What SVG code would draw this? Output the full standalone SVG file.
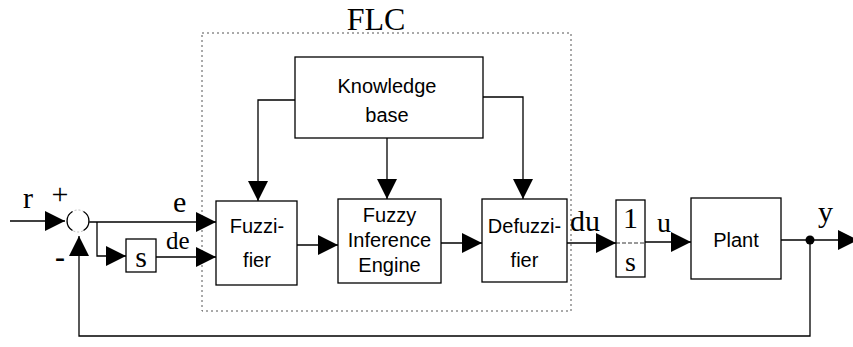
<svg xmlns="http://www.w3.org/2000/svg" width="853" height="347" viewBox="0 0 853 347">
<style>
.box{fill:#fff;stroke:#000;stroke-width:1.3}
.ln{fill:none;stroke:#000;stroke-width:1.3}
.sans{font-family:"Liberation Sans",Arial,sans-serif;font-size:20px;fill:#000;text-anchor:middle}
.serif{font-family:"Liberation Serif","Times New Roman",serif;fill:#000}
</style>
<defs>
<marker id="ah" markerUnits="userSpaceOnUse" markerWidth="20" markerHeight="20" refX="20" refY="10" orient="auto" viewBox="0 0 20 20">
<path d="M0,0 L20,10 L0,20 Z" fill="#000"/>
</marker>
</defs>
<rect x="0" y="0" width="853" height="347" fill="#fff"/>

<g id="flc">
<rect x="202" y="33" width="369" height="278" fill="none" stroke="#555" stroke-width="1" stroke-dasharray="2 3"/>
<text class="serif" x="376" y="30" font-size="32" text-anchor="middle">FLC</text>
</g>

<g id="connectors">
<line class="ln" x1="10" y1="221" x2="65" y2="221" marker-end="url(#ah)"/>
<polyline class="ln" points="89,222 216,222" marker-end="url(#ah)"/>
<polyline class="ln" points="97,222 97,256 126,256" marker-end="url(#ah)"/>
<line class="ln" x1="156" y1="257" x2="216" y2="257" marker-end="url(#ah)"/>
<polyline class="ln" points="295,100 258,100 258,201" marker-end="url(#ah)"/>
<line class="ln" x1="387" y1="138" x2="387" y2="199" marker-end="url(#ah)"/>
<polyline class="ln" points="483,97 523,97 523,199" marker-end="url(#ah)"/>
<line class="ln" x1="297" y1="245" x2="338" y2="245" marker-end="url(#ah)"/>
<line class="ln" x1="441" y1="243" x2="482" y2="243" marker-end="url(#ah)"/>
<line class="ln" x1="567" y1="243" x2="616" y2="243" marker-end="url(#ah)"/>
<line class="ln" x1="645" y1="242" x2="691" y2="242" marker-end="url(#ah)"/>
<line class="ln" x1="781" y1="240" x2="858" y2="240" marker-end="url(#ah)"/>
<polyline class="ln" points="810,240 810,336 79,336 79,236" marker-end="url(#ah)"/>
<circle cx="810" cy="240" r="4.5" fill="#000"/>
</g>

<g id="sum">
<circle cx="78" cy="221" r="11" fill="#fff" stroke="#aaa" stroke-width="0.8" stroke-dasharray="2 2"/>
<path class="ln" d="M72.5,211.5 A11,11 0 0 0 72.5,230.5"/>
<path class="ln" d="M83.5,211.5 A11,11 0 0 1 83.5,230.5"/>
<text class="serif" x="23" y="208" font-size="30">r</text>
<text class="serif" x="60" y="204" font-size="30" text-anchor="middle">+</text>
<text class="serif" x="60" y="267" font-size="30" font-weight="bold" text-anchor="middle">-</text>
</g>

<g id="deriv">
<rect class="box" x="126" y="239" width="30" height="33"/>
<text class="serif" x="141" y="267" font-size="30" text-anchor="middle">s</text>
</g>

<g id="sig-labels">
<text class="serif" x="173" y="212" font-size="30">e</text>
<text class="serif" x="166" y="249" font-size="25">de</text>
<text class="serif" x="570" y="231" font-size="30">du</text>
<text class="serif" x="657" y="232" font-size="28">u</text>
<text class="serif" x="818" y="222" font-size="30">y</text>
</g>

<g id="knowledge">
<rect class="box" x="295" y="57" width="188" height="81"/>
<text class="sans" x="387" y="93">Knowledge</text>
<text class="sans" x="387" y="122">base</text>
</g>

<g id="fuzzifier">
<rect class="box" x="216" y="201" width="81" height="84"/>
<text class="sans" x="257" y="233">Fuzzi-</text>
<text class="sans" x="257" y="267">fier</text>
</g>

<g id="inference">
<rect class="box" x="338" y="199" width="103" height="84"/>
<text class="sans" x="389.5" y="222">Fuzzy</text>
<text class="sans" x="389.5" y="247">Inference</text>
<text class="sans" x="389.5" y="272">Engine</text>
</g>

<g id="defuzzifier">
<rect class="box" x="482" y="199" width="85" height="83"/>
<text class="sans" x="524.5" y="233">Defuzzi-</text>
<text class="sans" x="524.5" y="267">fier</text>
</g>

<g id="integrator">
<rect class="box" x="616" y="200" width="29" height="77"/>
<line x1="616" y1="243" x2="645" y2="243" stroke="#000" stroke-width="0.8" stroke-dasharray="4 2"/>
<text class="serif" x="630.5" y="228" font-size="30" text-anchor="middle">1</text>
<text class="serif" x="630.5" y="271" font-size="28" text-anchor="middle">s</text>
</g>

<g id="plant">
<rect class="box" x="691" y="198" width="90" height="81"/>
<text class="sans" x="736" y="247">Plant</text>
</g>
</svg>
